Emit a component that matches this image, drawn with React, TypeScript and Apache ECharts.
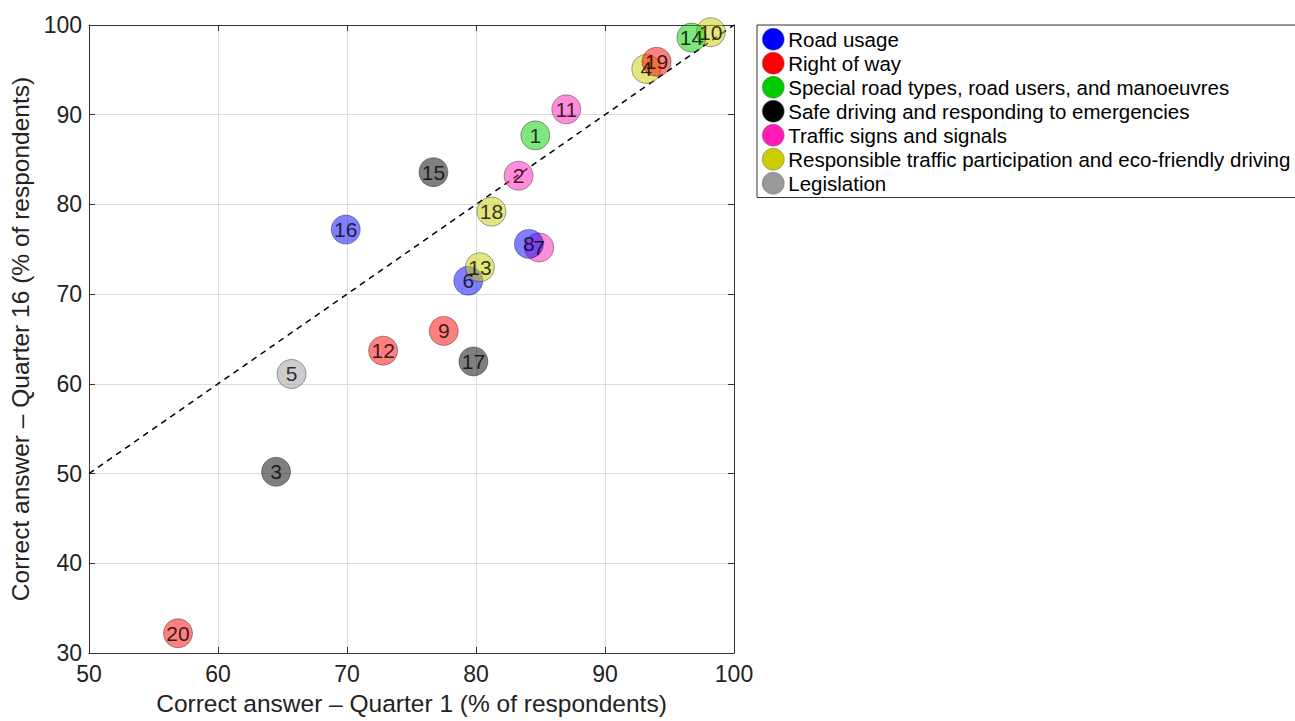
import React, { useEffect, useRef } from "react";
import * as echarts from "echarts";

const categories = [
  "Road usage",
  "Right of way",
  "Special road types, road users, and manoeuvres",
  "Safe driving and responding to emergencies",
  "Traffic signs and signals",
  "Responsible traffic participation and eco-friendly driving",
  "Legislation",
];
const categoryColors = ["#0000ff", "#ff0000", "#00cc00", "#000000", "#ff1cb4", "#cccc00", "#999999"];

// question number, Q1 %, Q16 %, category index
const questionNo = [1, 2, 3, 4, 5, 6, 7, 8, 9, 10, 11, 12, 13, 14, 15, 16, 17, 18, 19, 20];
const quarter1 = [84.6, 83.3, 64.5, 93.2, 65.7, 79.4, 84.9, 84.1, 77.5, 98.2, 87.0, 72.8, 80.3, 96.7, 76.7, 69.9, 79.8, 81.2, 94.0, 56.9];
const quarter16 = [87.7, 83.2, 50.2, 95.1, 61.1, 71.5, 75.2, 75.6, 65.9, 99.2, 90.6, 63.7, 73.0, 98.6, 83.6, 77.2, 62.5, 79.2, 95.9, 32.2];
const questionCat = [2, 4, 3, 5, 6, 0, 4, 0, 1, 5, 4, 1, 5, 2, 3, 0, 3, 5, 1, 1];

const xTicks = [50, 100, 10];
const yTicks = [30, 100, 10];
const diagonal = [[50, 50], [100, 100]];

function hexA(hex: string, a: number) {
  const r = parseInt(hex.slice(1, 3), 16);
  const g = parseInt(hex.slice(3, 5), 16);
  const b = parseInt(hex.slice(5, 7), 16);
  return `rgba(${r},${g},${b},${a})`;
}

export default function App() {
  const ref = useRef<HTMLDivElement>(null);
  useEffect(() => {
    document.body.style.margin = "0";
    const chart = echarts.init(ref.current!, null, { renderer: "svg" });
    const font = "'Liberation Sans', Arial, Helvetica, sans-serif";
    const pointSeries: any[] = questionNo.map((q, i) => ({
      type: "scatter",
      name: categories[questionCat[i]],
      xAxisIndex: 0,
      yAxisIndex: 0,
      symbol: "circle",
      symbolSize: 29,
      z: 3,
      itemStyle: {
        color: hexA(categoryColors[questionCat[i]], 0.5),
        borderColor: "rgba(0,0,0,0.45)",
        borderWidth: 0.8,
        opacity: 1,
      },
      data: [[quarter1[i], quarter16[i]]],
      emphasis: { disabled: true },
    }));
    const labelSeries = {
      type: "scatter",
      name: "labels",
      symbol: "circle",
      symbolSize: 1,
      z: 5,
      itemStyle: { color: "rgba(0,0,0,0)" },
      label: {
        show: true,
        position: "inside",
        formatter: (p: any) => String(p.data[2]),
        color: "#000",
        fontSize: 21,
        fontFamily: font,
      },
      data: questionNo.map((q, i) => [quarter1[i], quarter16[i], q]),
      emphasis: { disabled: true },
    };
    const lineSeries = {
      type: "line",
      name: "diag",
      data: diagonal,
      symbol: "none",
      z: 2,
      lineStyle: { color: "#000", width: 1.5, type: [6, 5] },
      emphasis: { disabled: true },
    };
    const axisCommon = {
      axisLine: { show: true, lineStyle: { color: "#333", width: 1 } },
      axisTick: { show: true, inside: true, length: 6, lineStyle: { color: "#333" } },
      splitLine: { show: false },
    };
    chart.setOption({
      animation: false,
      grid: { left: 89, top: 25, width: 645, height: 632 },
      legend: {
        orient: "vertical",
        left: 757,
        top: 25,
        padding: [3, 12, 3, 5],
        itemWidth: 22,
        itemHeight: 22,
        itemGap: 1.5,
        icon: "circle",
        borderColor: "#333",
        borderWidth: 1,
        backgroundColor: "#fff",
        selectedMode: false,
        textStyle: { fontSize: 20.5, lineHeight: 22, color: "#000", fontFamily: font, padding: [0, 0, 0, -1] },
        data: categories.map((c, i) => ({
          name: c,
          itemStyle: { color: categoryColors[i], borderColor: "#666", borderWidth: 0.5, opacity: 1 },
        })),
      },
      xAxis: [
        {
          type: "value",
          min: xTicks[0],
          max: xTicks[1],
          interval: xTicks[2],
          name: "Correct answer \u2013 Quarter 1 (% of respondents)",
          nameLocation: "middle",
          nameGap: 38,
          nameTextStyle: { fontSize: 24.5, color: "#222", fontFamily: font },
          ...axisCommon,
          axisLabel: { fontSize: 23, color: "#222", fontFamily: font, margin: 9 },
          splitLine: { show: true, lineStyle: { color: "#dcdcdc", width: 1 } },
        },
        {
          type: "value",
          position: "top",
          min: xTicks[0],
          max: xTicks[1],
          interval: xTicks[2],
          ...axisCommon,
          axisLabel: { show: false },
        },
      ],
      yAxis: [
        {
          type: "value",
          min: yTicks[0],
          max: yTicks[1],
          interval: yTicks[2],
          name: "Correct answer \u2013 Quarter 16 (% of respondents)",
          nameLocation: "middle",
          nameGap: 56,
          nameTextStyle: { fontSize: 24.5, color: "#222", fontFamily: font },
          ...axisCommon,
          axisLabel: { fontSize: 23, color: "#222", fontFamily: font, margin: 7 },
          splitLine: { show: true, lineStyle: { color: "#dcdcdc", width: 1 } },
        },
        {
          type: "value",
          position: "right",
          min: yTicks[0],
          max: yTicks[1],
          interval: yTicks[2],
          ...axisCommon,
          axisLabel: { show: false },
        },
      ],
      series: [lineSeries, ...pointSeries, labelSeries],
    });
    return () => chart.dispose();
  }, []);
  return <div ref={ref} style={{ width: 1295, height: 721 }} />;
}
